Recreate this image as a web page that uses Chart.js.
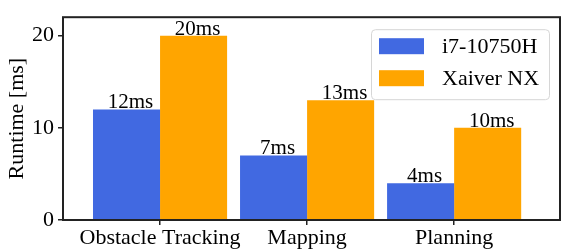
<!DOCTYPE html>
<html>
<head>
<meta charset="utf-8">
<script src="https://cdn.jsdelivr.net/npm/chart.js@4"></script>
<style>
  html, body { margin: 0; padding: 0; background: #fff; }
  #wrap { width: 583px; height: 251px; }
</style>
</head>
<body>
<div id="wrap"><canvas id="c" width="583" height="251"></canvas></div>
<script>
// runtime per module, two platforms
const categories = ['Obstacle Tracking', 'Mapping', 'Planning'];
const seriesNames = ['i7-10750H', 'Xaiver NX'];
const i7Runtime = [12, 7, 4];
const nxRuntime = [20, 13, 10];
const yTicks = [0, 10, 20];

const colors = ['#4169e1', '#ffa500'];
const FONT = 'Liberation Serif, Times New Roman, serif';

function toPoints(vals) {
  return vals.map((v, i) => ({ x: i, y: v }));
}

// value text on top of every bar
const barLabels = {
  id: 'barLabels',
  afterDatasetsDraw(chart) {
    const ctx = chart.ctx;
    ctx.save();
    ctx.font = '21px ' + FONT;
    ctx.fillStyle = '#000';
    ctx.textAlign = 'center';
    ctx.textBaseline = 'alphabetic';
    chart.data.datasets.forEach((ds, di) => {
      chart.getDatasetMeta(di).data.forEach((el, i) => {
        ctx.fillText(ds.data[i].y + 'ms', el.x + 4, el.y - 1);
      });
    });
    ctx.restore();
  }
};

// axes box + legend inside the plot
const frameAndLegend = {
  id: 'frameAndLegend',
  afterDraw(chart) {
    const ctx = chart.ctx;
    const a = chart.chartArea;
    ctx.save();
    ctx.strokeStyle = '#222';
    ctx.lineWidth = 2;
    ctx.strokeRect(a.left, a.top, a.right - a.left, a.bottom - a.top);

    // legend box
    const w = 178, h = 70;
    const x = a.right - 11 - w, y = a.top + 12;
    ctx.beginPath();
    ctx.roundRect(x + 0.5, y + 0.5, w, h, 4);
    ctx.fillStyle = 'rgba(255,255,255,0.8)';
    ctx.fill();
    ctx.strokeStyle = '#d6d6d6';
    ctx.lineWidth = 1;
    ctx.stroke();

    ctx.font = '22px ' + FONT;
    ctx.textBaseline = 'middle';
    chart.data.datasets.forEach((ds, i) => {
      const cy = y + 17 + i * 32;
      ctx.fillStyle = ds.backgroundColor;
      ctx.fillRect(x + 8, cy - 8, 45, 16);
      ctx.fillStyle = '#000';
      ctx.fillText(ds.label, x + 71, cy + 1);
    });
    ctx.restore();
  }
};

new Chart(document.getElementById('c'), {
  type: 'bar',
  data: {
    datasets: [
      { label: seriesNames[0], data: toPoints(i7Runtime), backgroundColor: colors[0] },
      { label: seriesNames[1], data: toPoints(nxRuntime), backgroundColor: colors[1] }
    ]
  },
  options: {
    responsive: false,
    animation: false,
    layout: { padding: { top: 13, right: 23, left: 0, bottom: 0 } },
    datasets: { bar: { categoryPercentage: 0.912, barPercentage: 1, borderWidth: 0 } },
    plugins: { legend: { display: false }, tooltip: { enabled: false } },
    scales: {
      x: {
        type: 'linear',
        offset: false,
        min: -0.66,
        max: 2.72,
        afterBuildTicks: s => { s.ticks = categories.map((c, i) => ({ value: i })); },
        afterFit: s => { s.height = 31; },
        ticks: {
          callback: v => categories[v],
          color: '#000',
          font: { family: FONT, size: 22 },
          padding: 0,
          maxRotation: 0,
          autoSkip: false
        },
        grid: { offset: false, drawOnChartArea: false, drawTicks: true, tickLength: 5, color: '#222', lineWidth: 1.5 },
        border: { display: false }
      },
      y: {
        min: 0,
        max: 22,
        afterBuildTicks: s => { s.ticks = yTicks.map(v => ({ value: v })); },
        afterFit: s => { s.width = 63; },
        ticks: {
          color: '#000',
          font: { family: FONT, size: 22 },
          padding: 4
        },
        grid: { drawOnChartArea: false, drawTicks: true, tickLength: 5, color: '#222', lineWidth: 1.5 },
        border: { display: false },
        title: {
          display: true,
          text: 'Runtime [ms]',
          color: '#000',
          font: { family: FONT, size: 22 },
          padding: { top: 4, bottom: 4 }
        }
      }
    }
  },
  plugins: [barLabels, frameAndLegend]
});
</script>
</body>
</html>
